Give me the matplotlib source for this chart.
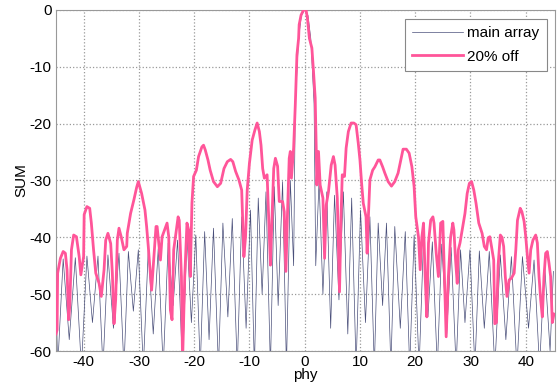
import matplotlib.pyplot as plt

plt.rcParams['font.family'] = ['Liberation Sans', 'DejaVu Sans']
plt.rcParams['axes.unicode_minus'] = False

# main array pattern (lobe peaks and nulls, dB)
navy_phy = [-45.0, -44.7, -43.7, -42.6, -41.5, -40.4, -39.4, -38.4, -37.4, -36.5,
            -35.6, -34.6, -33.6, -32.7, -31.9, -31.0, -30.1, -29.2, -28.3, -27.4,
            -26.5, -25.6, -24.7, -23.8, -23.0, -22.1, -21.3, -20.5, -19.7, -18.9,
            -18.1, -17.3, -16.5, -15.6, -14.8, -13.9, -13.1, -12.2, -11.4, -10.6,
            -9.8, -9.1, -8.4, -7.7, -7.0, -6.2, -5.5, -4.8, -4.0, -3.3,
            -2.6, -2.0, -1.7, -1.1, -0.6, 0.0, 0.6, 1.1, 1.7, 2.0,
            2.6, 3.3, 4.0, 4.7, 5.4, 6.2, 7.0, 7.8, 8.5, 9.3,
            10.1, 11.0, 11.8, 12.6, 13.3, 14.1, 14.8, 15.6, 16.3, 17.3,
            18.2, 19.0, 19.8, 20.7, 21.5, 22.3, 23.1, 24.0, 24.8, 25.7,
            26.5, 27.4, 28.2, 29.0, 29.9, 30.8, 31.6, 32.5, 33.4, 34.4,
            35.4, 36.4, 37.4, 38.4, 39.4, 40.5, 41.5, 42.5, 43.4, 44.4, 45.0]
navy_db = [-49, -63, -43.8, -58, -43.6, -63, -43.3, -55, -43.3, -63,
           -43.1, -56, -42.8, -63, -42.5, -53, -42.2, -63, -42.2, -57,
           -42.0, -63, -41.0, -52, -40.5, -63, -39.6, -55, -39.6, -63,
           -39.0, -58, -38.4, -63, -37.5, -54, -36.7, -63, -36.4, -56,
           -35.2, -63, -33.1, -50, -32.0, -63, -31.1, -52, -30.2, -63,
           -30.0, -45, -16.5, -5.0, -1.0, 0.0, -1.0, -5.0, -16.5, -45,
           -30.0, -50, -32.0, -56, -32.6, -51, -32.0, -57, -33.1, -63,
           -35.2, -55, -36.4, -63, -37.5, -52, -37.5, -63, -38.1, -56,
           -39.0, -63, -39.6, -63, -40.5, -54, -40.8, -63, -41.2, -57,
           -41.8, -63, -42.2, -55, -42.2, -63, -42.4, -56, -42.5, -63,
           -43.1, -58, -43.4, -63, -43.4, -56, -44.0, -63, -44.6, -60, -46]

# 20% off pattern
off_phy = [-45.0, -44.8, -44.7, -44.2, -43.7, -43.3, -43.0, -42.7, -42.5, -42.2,
           -41.8, -41.3, -40.8, -40.5, -40.0, -39.9, -39.4, -38.9, -38.6, -38.2,
           -37.8, -37.2, -36.8, -36.3, -36.0, -35.6, -35.1, -34.8, -34.5, -34.2,
           -33.9, -33.6, -33.2, -32.7, -32.2, -32.1, -31.5, -30.9, -30.4, -30.1,
           -29.5, -28.9, -28.6, -28.3, -27.7, -27.4, -26.9, -26.7, -26.1, -25.8,
           -24.9, -24.6, -24.3, -24.0, -23.7, -23.3, -22.9, -22.7, -22.3, -22.1,
           -21.7, -21.3, -21.0, -20.7, -20.4, -20.1, -19.6, -19.2, -18.6, -18.3,
           -18.0, -17.5, -17.1, -16.5, -15.8, -15.2, -14.6, -14.0, -13.4, -13.0,
           -12.5, -11.9, -11.4, -11.0, -10.7, -10.4, -10.0, -9.5, -9.0, -8.6,
           -8.2, -7.9, -7.6, -7.3, -6.8, -6.6, -6.2, -6.0, -5.6, -5.3,
           -4.9, -4.6, -4.0, -3.7, -3.4, -3.1, -2.8, -2.6, -2.4, -2.0,
           -1.7, -1.4, -1.1, -1.0, -0.65, -0.2, 0.25, 0.5, 0.85, 1.3,
           1.6, 1.9, 2.1, 2.2, 2.5, 2.8, 3.3, 3.6, 3.9, 4.3,
           4.8, 5.2, 5.5, 5.9, 6.3, 6.6, 6.8, 7.2, 7.5, 7.9,
           8.4, 8.9, 9.3, 9.7, 10.0, 10.3, 10.6, 11.1, 11.3, 11.5,
           11.8, 12.3, 12.7, 13.3, 13.6, 14.1, 14.5, 15.1, 15.7, 16.3,
           16.9, 17.4, 17.8, 18.4, 18.9, 19.4, 19.8, 20.1, 20.6, 20.9,
           21.2, 21.5, 21.8, 22.1, 22.4, 22.8, 23.2, 23.4, 23.8, 24.2,
           24.6, 25.0, 25.2, 25.6, 26.0, 26.4, 26.8, 27.0, 27.3, 27.6,
           27.8, 28.1, 28.5, 29.0, 29.4, 29.8, 30.2, 30.6, 31.0, 31.5,
           32.1, 32.5, 32.9, 33.2, 33.5, 33.8, 34.2, 34.4, 34.7, 35.0,
           35.4, 35.7, 36.0, 36.3, 36.6, 37.0, 37.4, 37.9, 38.2, 38.5,
           39.0, 39.3, 39.7, 40.0, 40.3, 40.6, 40.9, 41.3, 41.8, 42.1,
           42.4, 42.7, 43.0, 43.3, 43.6, 43.9, 44.2, 44.5, 44.8, 45.1]
off_db = [-57, -56.3, -46.3, -43.7, -42.5, -42.8, -45.7, -54.5, -52, -42.2,
          -39.6, -39.9, -43.4, -46.6, -43.4, -36.0, -34.6, -34.9, -37.5, -42.2,
          -46.3, -48.1, -50.4, -45.7, -40.5, -39.3, -41.1, -46.3, -55.2, -51,
          -40.5, -38.4, -39.9, -42.2, -41.6, -39.3, -35.8, -33.4, -31.2, -30.2,
          -32.3, -35.2, -38.1, -41.6, -49.3, -45.2, -38.1, -38.1, -44, -39.9,
          -37.5, -39.9, -52.8, -54.5, -42.2, -39.3, -36.4, -37.0, -46.9, -62,
          -46.9, -37.5, -38.7, -46.9, -34.0, -29.3, -28.2, -25.8, -24.1, -23.8,
          -24.6, -26.4, -28.2, -30.2, -31.1, -30.5, -27.9, -26.7, -26.3, -26.7,
          -28.4, -29.9, -31.7, -43.4, -39.9, -31.7, -27.0, -22.9, -21.1, -19.9,
          -21.4, -23.8, -27.9, -29.6, -29.0, -34.3, -44.9, -39.0, -27.9, -26.1,
          -27.5, -33.7, -33.7, -35.5, -46.0, -35.5, -26.1, -24.9, -29.6, -24.3,
          -16.7, -7.9, -5.0, -2.6, -0.9, 0.0, 0.0, -1.5, -5.0, -6.7,
          -10.9, -15.5, -24.9, -30.8, -24.9, -30.8, -33.1, -43.7, -34.3, -32.0,
          -27.3, -25.8, -27.3, -33.1, -49.6, -35.5, -29.0, -29.3, -24.3, -21.4,
          -19.9, -19.9, -20.2, -23.5, -26.4, -30.5, -34.0, -36.4, -42.8, -37.0,
          -29.9, -28.2, -27.6, -26.4, -26.4, -27.6, -28.7, -30.2, -31.0, -30.2,
          -28.7, -26.4, -24.5, -24.5, -25.2, -27.6, -31.1, -36.4, -40.0, -45.7,
          -40.0, -37.5, -46.9, -54.0, -41.0, -37.0, -36.4, -37.5, -42.8, -46.9,
          -37.5, -37.2, -44.0, -57.5, -46.9, -40.0, -37.5, -38.7, -44.0, -48.1,
          -42.2, -41.0, -38.7, -35.8, -32.3, -30.5, -30.2, -31.7, -34.0, -37.5,
          -39.3, -41.6, -42.2, -40.1, -39.9, -41.6, -44.0, -55.2, -55.0, -44.9,
          -39.6, -40.0, -41.6, -46.9, -50.4, -47.5, -47.2, -46.3, -42.2, -37.0,
          -34.9, -35.5, -37.2, -39.9, -43.4, -46.3, -42.2, -40.5, -39.6, -41.0,
          -46.9, -51.0, -54.0, -46.9, -42.8, -42.5, -44.5, -46.9, -55.0, -53.5]

fig = plt.figure(figsize=(5.57, 3.85), dpi=100)
ax = fig.add_axes([0.1005, 0.0883, 0.896, 0.886])

ax.plot(navy_phy, navy_db, color='#4a4f7a', lw=0.5, label='main array', zorder=2)
ax.plot(off_phy, off_db, color='#ff5599', lw=2.0, label='20% off', zorder=3)

ax.set_xlim(-45, 45.3)
ax.set_ylim(-60, 0)
ax.set_xticks(range(-40, 41, 10))
ax.set_yticks(range(-60, 1, 10))
ax.grid(True, linestyle=':', color='#999999', lw=0.9)
ax.tick_params(labelsize=11, length=0, pad=3)
for s in ax.spines.values():
    s.set_color('#999999')
ax.set_xlabel('phy', fontsize=11, labelpad=-1)
ax.set_ylabel('SUM', fontsize=11, labelpad=1)

leg = ax.legend(loc='upper right', bbox_to_anchor=(0.984, 0.974), borderaxespad=0,
                fontsize=11, fancybox=False, framealpha=1, edgecolor='#888888',
                handlelength=3.3, handletextpad=0.3, borderpad=0.5, labelspacing=0.6)
leg.get_frame().set_linewidth(0.8)

fig.savefig('out.png', dpi=100)
